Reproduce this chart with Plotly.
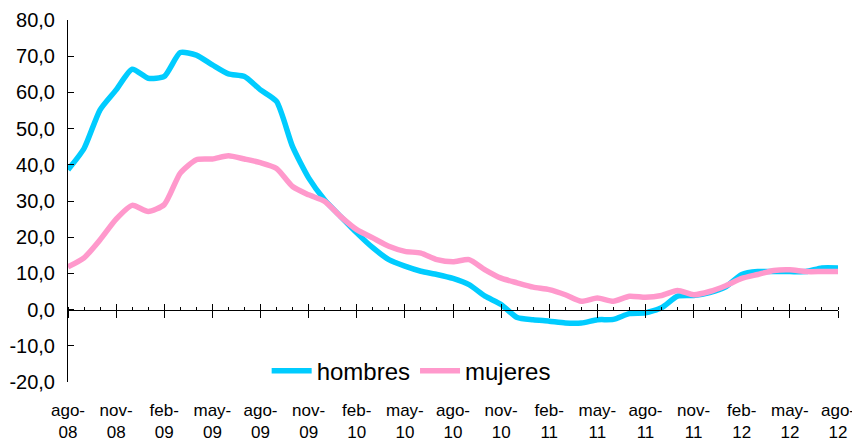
import plotly.graph_objects as go

months = ["ago-08","sep-08","oct-08","nov-08","dic-08","ene-09","feb-09","mar-09","abr-09","may-09","jun-09","jul-09",
          "ago-09","sep-09","oct-09","nov-09","dic-09","ene-10","feb-10","mar-10","abr-10","may-10","jun-10","jul-10",
          "ago-10","sep-10","oct-10","nov-10","dic-10","ene-11","feb-11","mar-11","abr-11","may-11","jun-11","jul-11",
          "ago-11","sep-11","oct-11","nov-11","dic-11","ene-12","feb-12","mar-12","abr-12","may-12","jun-12","jul-12","ago-12"]

hombres = [38.6, 44.5, 55.2, 60.7, 66.4, 63.9, 64.4, 71.0, 70.3, 67.6, 65.1, 64.4,
           60.7, 57.5, 45.0, 36.4, 30.3, 25.7, 21.2, 17.1, 13.8, 12.0, 10.6, 9.7,
           8.6, 6.9, 3.7, 1.4, -2.2, -2.8, -3.2, -3.7, -3.7, -2.8, -2.7, -1.1,
           -0.9, 0.5, 3.7, 3.9, 4.7, 6.3, 9.7, 10.5, 10.5, 10.5, 10.5, 11.5, 11.5]

mujeres = [11.8, 14.3, 19.3, 25.0, 28.8, 27.1, 29.0, 37.7, 41.4, 41.6, 42.5, 41.6,
           40.6, 39.0, 34.0, 31.7, 29.9, 25.7, 22.1, 19.8, 17.5, 16.1, 15.6, 13.8,
           13.2, 13.8, 11.0, 8.7, 7.4, 6.2, 5.5, 4.1, 2.3, 3.2, 2.3, 3.7,
           3.4, 3.9, 5.3, 4.1, 5.0, 6.6, 8.6, 9.7, 10.8, 11.0, 10.5, 10.5, 10.5]

tick_idx = list(range(0, len(months), 3))
tick_text = [m.replace("-", "-<br>") for m in months[::3]]

y_vals = [-20, -10, 0, 10, 20, 30, 40, 50, 60, 70, 80]
y_text = ["-20,0", "-10,0", "0,0", "10,0", "20,0", "30,0", "40,0", "50,0", "60,0", "70,0", "80,0"]

x = list(range(len(months)))

fig = go.Figure()
# helper (empty) trace so the label axis is rendered
fig.add_trace(go.Scatter(x=[], y=[], xaxis="x3", showlegend=False, hoverinfo="skip"))
fig.add_trace(go.Scatter(x=x, y=hombres, name="hombres", mode="lines", xaxis="x",
                         line=dict(color="#00CCFF", width=5.5, shape="spline", smoothing=0.6)))
fig.add_trace(go.Scatter(x=x, y=mujeres, name="mujeres", mode="lines", xaxis="x2",
                         line=dict(color="#FF99CC", width=5.5, shape="spline", smoothing=0.6)))

xr = [0, len(months) - 1]
fig.update_layout(
    width=860, height=443,
    margin=dict(l=60, r=30, t=12, b=69, autoexpand=False),
    paper_bgcolor="white", plot_bgcolor="white",
    font=dict(family="Liberation Sans, Arial, sans-serif", color="black"),
    showlegend=True,
    legend=dict(orientation="h", x=0.258, y=0.03, xanchor="left", yanchor="middle",
                font=dict(size=24), bgcolor="rgba(0,0,0,0)", itemwidth=40,
                traceorder="normal"),
    xaxis=dict(range=xr, anchor="free", position=0.2, showline=True, linecolor="black", linewidth=1,
               tickmode="array", tickvals=tick_idx, ticks="outside", ticklen=7, tickcolor="black",
               showticklabels=False, showgrid=False, zeroline=False, automargin=False,
               minor=dict(dtick=1, ticks="inside", ticklen=3, tickcolor="black", showgrid=False)),
    xaxis2=dict(range=xr, overlaying="x", anchor="free", position=0.2, showline=False,
                tickmode="array", tickvals=tick_idx, ticks="inside", ticklen=6, tickcolor="black",
                showticklabels=False, showgrid=False, zeroline=False, automargin=False),
    xaxis3=dict(range=xr, overlaying="x", anchor="y", side="bottom", showline=False,
                tickmode="array", tickvals=tick_idx, ticktext=tick_text, ticks="",
                ticklabelstandoff=16, tickfont=dict(size=17), showgrid=False, zeroline=False,
                automargin=False),
    yaxis=dict(range=[-20, 80], tickmode="array", tickvals=y_vals, ticktext=y_text,
               showline=True, linecolor="black", linewidth=1, ticks="inside", ticklen=6,
               tickcolor="black", tickfont=dict(size=20), ticklabelstandoff=8,
               showgrid=False, zeroline=False, automargin=False),
)

fig.write_html("out.html")
